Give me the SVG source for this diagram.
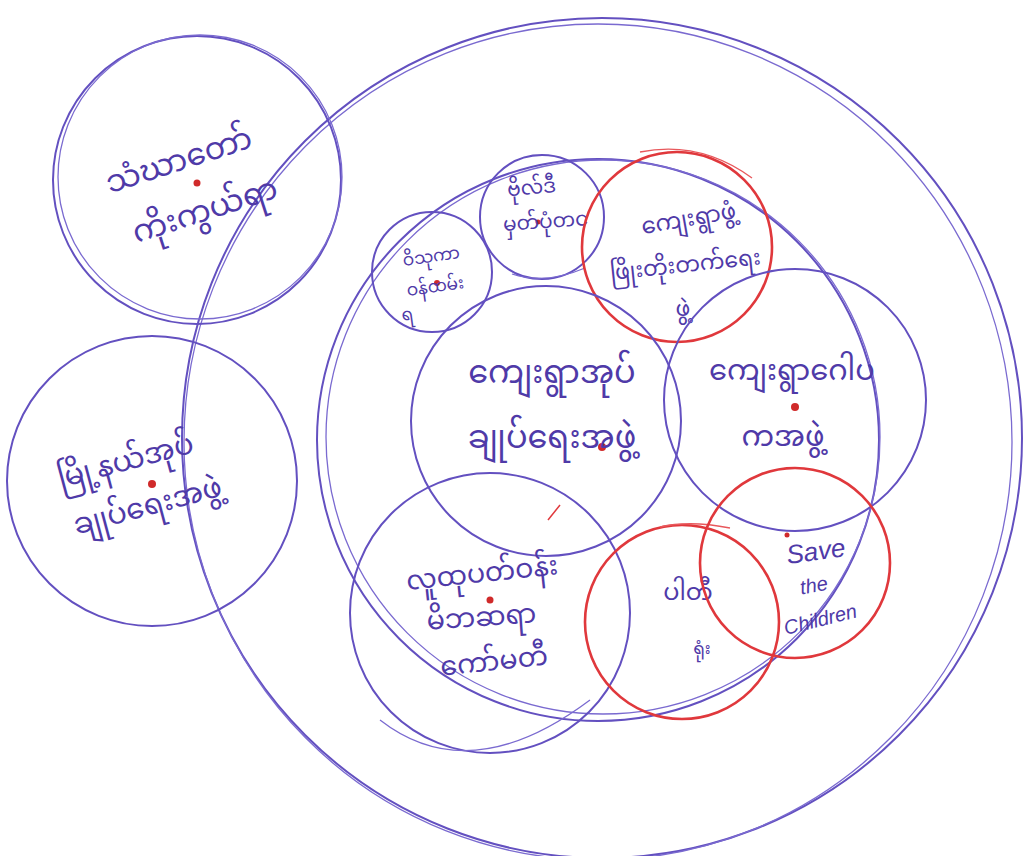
<svg xmlns="http://www.w3.org/2000/svg" width="1023" height="856" viewBox="0 0 1023 856">
<style>
.p{fill:none;stroke:#6350c0;stroke-width:2}
.p2{fill:none;stroke:#7a6ad0;stroke-width:1.3}
.r{fill:none;stroke:#e0383c;stroke-width:2.6}
.r2{fill:none;stroke:#e8585c;stroke-width:1.3}
.t{font-family:"Noto Sans Myanmar","Padauk","Myanmar Text","Noto Sans",sans-serif;fill:#4f3aa8;font-size:26px;text-anchor:middle}
.e{font-family:"Liberation Sans",sans-serif;font-style:italic;fill:#4f3aa8;text-anchor:middle}
.d{fill:#d02a2a}
</style>
<rect width="1023" height="856" fill="#ffffff"/>
<g id="connectors"></g>
<g id="outer">
<ellipse class="p" cx="602" cy="438" rx="420" ry="420"/>
<ellipse class="p2" cx="598" cy="442" rx="414" ry="418"/>
</g>
<g id="n-topleft">
<circle class="p" cx="197" cy="180" r="144"/>
<circle class="p2" cx="200" cy="177" r="142"/>
<circle class="d" cx="197" cy="183" r="3.5"/>
<text class="t" style="font-size:31px" transform="translate(182,170) rotate(-18)">သံဃာတော်</text>
<text class="t" style="font-size:31px" transform="translate(208,220) rotate(-18)">ကိုးကွယ်ရာ</text>
</g>
<g id="n-township">
<circle class="p" cx="152" cy="481" r="145"/>
<circle class="d" cx="152" cy="484" r="4"/>
<text class="t" style="font-size:29px" transform="translate(128,470) rotate(-15)">မြို့နယ်အုပ်</text>
<text class="t" style="font-size:29px" transform="translate(150,515) rotate(-15)">ချုပ်ရေးအဖွဲ့</text>
</g>
<g id="n-inner">
<circle class="p" cx="598" cy="440" r="281"/>
<circle class="p2" cx="603" cy="437" r="277"/>
</g>
<g id="n-small-left">
<circle class="p" cx="432" cy="272" r="60"/>
<circle class="d" cx="437" cy="283" r="3"/>
<text class="t" style="font-size:17px" transform="translate(432,262) rotate(-8)">ဝိသုကာ</text>
<text class="t" style="font-size:17px" transform="translate(436,292) rotate(-8)">ဝန်ထမ်း</text>
<text class="t" style="font-size:17px" transform="translate(408,320) rotate(-8)">ရ</text>
</g>
<g id="n-small-top">
<circle class="p" cx="542" cy="217" r="62"/>
<path class="p2" d="M512,274 Q545,285 585,268"/>
<circle class="d" cx="538" cy="222" r="2.5"/>
<text class="t" style="font-size:20px" transform="translate(532,194) rotate(-5)">ဗိုလ်ဒီ</text>
<text class="t" style="font-size:20px" transform="translate(546,228) rotate(-4)">မှတ်ပုံတင</text>
</g>
<g id="n-red-top">
<circle class="r" cx="677" cy="247" r="95"/>
<path class="r2" d="M640,152 Q700,140 752,178"/>
<text class="t" style="font-size:23px" transform="translate(690,226) rotate(-10)">ကျေးရွာဖွံ့</text>
<text class="t" style="font-size:22px" transform="translate(686,272) rotate(-6)">ဖြိုးတိုးတက်ရေး</text>
<text class="t" style="font-size:22px" transform="translate(683,316)">ဖွဲ့</text>
</g>
<g id="n-center">
<circle class="p" cx="546" cy="421" r="135"/>
<circle class="d" cx="602" cy="447" r="4"/>
<path d="M548,520 L560,505" stroke="#e0383c" stroke-width="1.5"/>
<text class="t" style="font-size:32px" transform="translate(552,383)">ကျေးရွာအုပ်</text>
<text class="t" style="font-size:32px" transform="translate(552,448)">ချုပ်ရေးအဖွဲ့</text>
</g>
<g id="n-right">
<circle class="p" cx="795" cy="400" r="131"/>
<circle class="d" cx="795" cy="407" r="4"/>
<text class="t" style="font-size:29px" transform="translate(792,380)">ကျေးရွာဂေါပ</text>
<text class="t" style="font-size:29px" transform="translate(783,446)">ကအဖွဲ့</text>
</g>
<g id="n-bottom">
<circle class="p" cx="490" cy="613" r="140"/>
<path class="p2" d="M380,720 Q470,790 590,700"/>
<circle class="d" cx="490" cy="600" r="3.5"/>
<text class="t" style="font-size:27px" transform="translate(483,582) rotate(-6)">လူထုပတ်ဝန်း</text>
<text class="t" style="font-size:27px" transform="translate(482,626) rotate(-4)">မိဘဆရာ</text>
<text class="t" style="font-size:27px" transform="translate(495,670) rotate(-6)">ကော်မတီ</text>
</g>
<g id="n-red-bl">
<circle class="r" cx="682" cy="622" r="97"/>
<path class="r2" d="M660,527 Q690,520 730,528"/>
<text class="t" style="font-size:24px" transform="translate(688,600)">ပါတီ</text>
<text class="t" style="font-size:17px" transform="translate(702,654)">ရုံး</text>
</g>
<g id="n-red-br">
<circle class="r" cx="795" cy="563" r="95"/>
<circle class="d" cx="787" cy="535" r="2.5"/>
<text class="e" style="font-size:26px" transform="translate(817,560) rotate(-8)">Save</text>
<text class="e" style="font-size:20px" transform="translate(815,592) rotate(-10)">the</text>
<text class="e" style="font-size:20px" transform="translate(822,626) rotate(-14)">Children</text>
</g>
</svg>
